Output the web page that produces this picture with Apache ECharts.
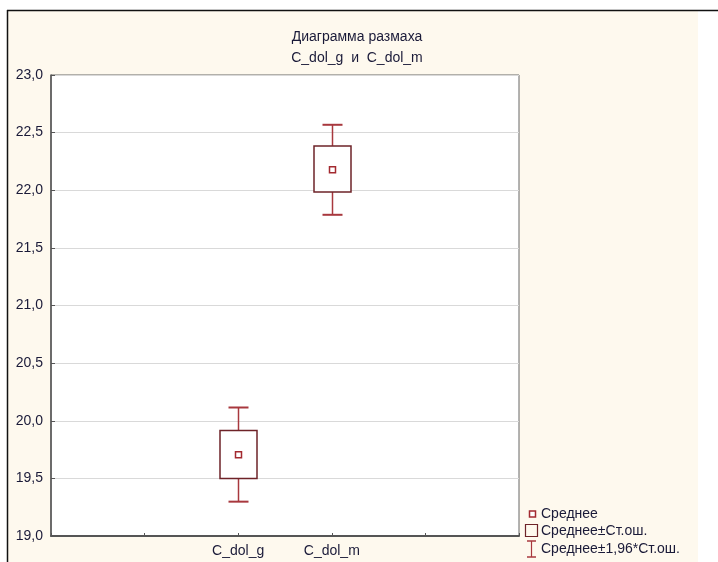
<!DOCTYPE html>
<html>
<head>
<meta charset="utf-8">
<script src="https://cdn.jsdelivr.net/npm/echarts@6/dist/echarts.min.js"></script>
<style>
  html, body { margin: 0; padding: 0; background: #ffffff; }
  #chart { width: 718px; height: 562px; }
</style>
</head>
<body>
<div id="chart"></div>
<script>
// Variables shown on the range plot
const categories = ['C_dol_g', 'C_dol_m'];
// Means
const means = [19.705, 22.178];
// Mean ± standard error
const seLow = [19.50, 21.985];
const seHigh = [19.915, 22.385];
// Mean ± 1.96 * standard error
const ciLow = [19.298, 21.787];
const ciHigh = [20.115, 22.568];
// Y-axis range and step
const yMin = 19, yMax = 23, yStep = 0.5;
// Legend entries
const legendLabels = ['Среднее', 'Среднее±Ст.ош.', 'Среднее±1,96*Ст.ош.'];

const FONT = '"Liberation Sans", Arial, sans-serif';
const TEXT = '#1a1a38';
const BOX = '#6e2328';
const WHISK = '#a8383e';
const MEAN = '#a32a30';
const CREAM = '#fef9ee';

// x position of each variable on the 0..5 axis
const xPos = categories.map((c, i) => i + 2);

const chart = echarts.init(document.getElementById('chart'), null, { renderer: 'canvas' });

const rows = categories.map((c, i) => [xPos[i], means[i], seLow[i], seHigh[i], ciLow[i], ciHigh[i]]);

function renderRange(params, api) {
  const x = api.value(0);
  const pMean = api.coord([x, api.value(1)]);
  const pSeLo = api.coord([x, api.value(2)]);
  const pSeHi = api.coord([x, api.value(3)]);
  const pCiLo = api.coord([x, api.value(4)]);
  const pCiHi = api.coord([x, api.value(5)]);
  const cx = Math.round(pMean[0]) + 0.5;
  const boxW = 37, capW = 20, m = 6;
  return {
    type: 'group',
    children: [
      { type: 'line', shape: { x1: cx, y1: pCiHi[1], x2: cx, y2: pSeHi[1] }, style: { stroke: WHISK, lineWidth: 1.5 } },
      { type: 'line', shape: { x1: cx, y1: pSeLo[1], x2: cx, y2: pCiLo[1] }, style: { stroke: WHISK, lineWidth: 1.5 } },
      { type: 'line', shape: { x1: cx - capW / 2, y1: pCiHi[1], x2: cx + capW / 2, y2: pCiHi[1] }, style: { stroke: WHISK, lineWidth: 2 } },
      { type: 'line', shape: { x1: cx - capW / 2, y1: pCiLo[1], x2: cx + capW / 2, y2: pCiLo[1] }, style: { stroke: WHISK, lineWidth: 2 } },
      { type: 'rect', shape: { x: cx - boxW / 2, y: pSeHi[1], width: boxW, height: pSeLo[1] - pSeHi[1] },
        style: { fill: '#ffffff', stroke: BOX, lineWidth: 1.5 } },
      { type: 'rect', shape: { x: cx - m / 2, y: pMean[1] - m / 2, width: m, height: m },
        style: { fill: '#ffffff', stroke: MEAN, lineWidth: 1.5 } }
    ]
  };
}

// Legend drawn beside the plot: glyph + label
const lgTextX = 541;
const lgY = [514, 531, 549];
const legendGraphics = [
  { type: 'rect', shape: { x: 529.5, y: lgY[0] - 3, width: 6, height: 6 }, style: { fill: '#fff', stroke: MEAN, lineWidth: 1.5 } },
  { type: 'rect', shape: { x: 525.5, y: lgY[1] - 6.5, width: 12, height: 12 }, style: { fill: 'transparent', stroke: BOX, lineWidth: 1.2 } },
  { type: 'line', shape: { x1: 531.5, y1: lgY[2] - 8, x2: 531.5, y2: lgY[2] + 8 }, style: { stroke: WHISK, lineWidth: 1.2 } },
  { type: 'line', shape: { x1: 527, y1: lgY[2] - 8, x2: 536, y2: lgY[2] - 8 }, style: { stroke: WHISK, lineWidth: 1.5 } },
  { type: 'line', shape: { x1: 527, y1: lgY[2] + 8, x2: 536, y2: lgY[2] + 8 }, style: { stroke: WHISK, lineWidth: 1.5 } }
].concat(legendLabels.map((t, i) => ({
  type: 'text', x: lgTextX, y: lgY[i],
  style: { text: t, fill: TEXT, font: '14px ' + FONT, textVerticalAlign: 'middle' }
})));

const option = {
  backgroundColor: '#ffffff',
  animation: false,
  title: {
    text: 'Диаграмма размаха\nC_dol_g  и  C_dol_m',
    left: 352, top: 22, textAlign: 'center',
    textStyle: { fontFamily: FONT, fontSize: 14, fontWeight: 'normal', color: TEXT, lineHeight: 21 }
  },
  grid: {
    left: 51, top: 75, right: 199, bottom: 26,
    show: true, backgroundColor: '#ffffff', borderColor: '#666666', borderWidth: 1
  },
  xAxis: {
    type: 'value', min: 0, max: 5, interval: 1,
    axisLine: { show: true, lineStyle: { color: '#555555', width: 2 } },
    axisTick: { show: true, inside: true, length: 3, lineStyle: { color: '#555555' } },
    splitLine: { show: false },
    axisLabel: {
      margin: 8, fontFamily: FONT, fontSize: 14, color: TEXT,
      formatter: v => { const i = xPos.indexOf(v); return i >= 0 ? categories[i] : ''; }
    }
  },
  yAxis: {
    type: 'value', min: yMin, max: yMax, interval: yStep,
    axisLine: { show: true, lineStyle: { color: '#555555', width: 1.5 } },
    axisTick: { show: true, inside: true, length: 4, lineStyle: { color: '#555555' } },
    splitLine: { show: true, lineStyle: { color: '#d9d9d9', width: 1 } },
    axisLabel: {
      margin: 8, fontFamily: FONT, fontSize: 14, color: TEXT,
      formatter: v => v.toFixed(1).replace('.', ',')
    }
  },
  graphic: [
    { type: 'rect', z: -10, silent: true, shape: { x: 7, y: 10, width: 691, height: 552 }, style: { fill: CREAM } },
    { type: 'line', z: -5, shape: { x1: 7, y1: 10.5, x2: 718, y2: 10.5 }, style: { stroke: '#111', lineWidth: 1.5 } },
    { type: 'line', z: -5, shape: { x1: 7.5, y1: 10, x2: 7.5, y2: 562 }, style: { stroke: '#111', lineWidth: 1.5 } }
  ].concat(legendGraphics),
  series: [{
    type: 'custom',
    renderItem: renderRange,
    data: rows,
    encode: { x: 0, y: [1, 2, 3, 4, 5] },
    clip: false
  }]
};
chart.setOption(option);
</script>
</body>
</html>
